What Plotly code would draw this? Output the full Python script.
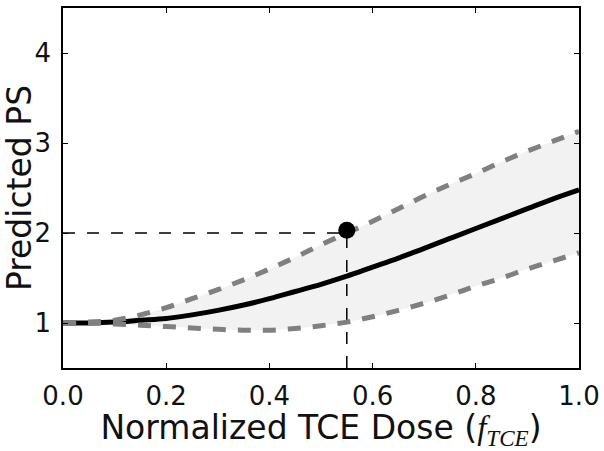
import plotly.graph_objects as go

# Data
dose = [0.0, 0.05, 0.1, 0.15, 0.2, 0.25, 0.3, 0.35, 0.4, 0.45, 0.5,
        0.55, 0.6, 0.65, 0.7, 0.75, 0.8, 0.85, 0.9, 0.95, 1.0]
ps_mean = [1.0, 1.0, 1.01, 1.03, 1.05, 1.09, 1.14, 1.20, 1.27, 1.35, 1.43,
           1.52, 1.62, 1.72, 1.83, 1.94, 2.05, 2.16, 2.27, 2.38, 2.48]
ps_upper = [1.0, 1.01, 1.03, 1.09, 1.17, 1.27, 1.37, 1.48, 1.60, 1.73, 1.87,
            2.00, 2.13, 2.27, 2.41, 2.54, 2.66, 2.79, 2.91, 3.02, 3.13]
ps_lower = [1.0, 1.0, 0.99, 0.975, 0.96, 0.945, 0.93, 0.92, 0.92, 0.94, 0.97,
            1.01, 1.07, 1.14, 1.22, 1.31, 1.41, 1.50, 1.60, 1.69, 1.78]

ref_dose = 0.55
ref_ps = 2.0
point_dose = [0.55]
point_ps = [2.03]

x_ticks = [0.0, 0.2, 0.4, 0.6, 0.8, 1.0]
x_ticktext = ["0.0", "0.2", "0.4", "0.6", "0.8", "1.0"]
y_ticks = [1, 2, 3, 4]
x_range = [0.0, 1.0]
y_range = [0.5, 4.5]

fig = go.Figure()

# shaded band
fig.add_trace(go.Scatter(x=dose, y=ps_upper, mode="lines", line=dict(width=0, shape="spline"),
                         showlegend=False, hoverinfo="skip"))
fig.add_trace(go.Scatter(x=dose, y=ps_lower, mode="lines", line=dict(width=0, shape="spline"),
                         fill="tonexty", fillcolor="rgb(242,242,242)",
                         showlegend=False, hoverinfo="skip"))

# reference dashed lines
fig.add_trace(go.Scatter(x=[x_range[0], ref_dose], y=[ref_ps, ref_ps], mode="lines",
                         line=dict(color="black", width=1.5, dash="12px,12px"), showlegend=False))
fig.add_trace(go.Scatter(x=[ref_dose, ref_dose], y=[y_range[0], ref_ps], mode="lines",
                         line=dict(color="black", width=1.5, dash="12px,12px"), showlegend=False))

# mean
fig.add_trace(go.Scatter(x=dose, y=ps_mean, mode="lines",
                         line=dict(color="black", width=5, shape="spline"), showlegend=False))

# bounds (drawn over the mean line)
for b in (ps_upper, ps_lower):
    fig.add_trace(go.Scatter(x=dose, y=b, mode="lines",
                             line=dict(color="rgb(128,128,128)", width=5, dash="13px,12px", shape="spline"),
                             showlegend=False))

# point
fig.add_trace(go.Scatter(x=point_dose, y=point_ps, mode="markers",
                         marker=dict(color="black", size=17), showlegend=False))

axis_common = dict(showline=True, linecolor="black", linewidth=1.5, mirror="ticks",
                   ticks="inside", ticklen=5, tickwidth=1, tickcolor="black",
                   showgrid=False, zeroline=False, automargin=False,
                   tickfont=dict(family="DejaVu Sans", size=26, color="#111"))

fig.update_layout(
    width=604, height=451,
    margin=dict(l=63, r=25, t=8, b=83),
    paper_bgcolor="white", plot_bgcolor="white",
    xaxis=dict(range=x_range, tickvals=x_ticks, ticktext=x_ticktext,
               ticklabelstandoff=4,
               title=dict(text="Normalized TCE Dose (<span style='font-family:Liberation Serif'><i>f</i><sub><i>TCE</i></sub></span>)",
                          font=dict(family="DejaVu Sans", size=33, color="#111"), standoff=2),
               **axis_common),
    yaxis=dict(range=y_range, tickvals=y_ticks,
               ticklabelstandoff=5,
               title=dict(text="Predicted PS", font=dict(family="DejaVu Sans", size=33, color="#111"),
                          standoff=1),
               **axis_common),
)

fig.write_html("out.html", config={"displayModeBar": False},
               post_script="document.body.style.margin='0';")
